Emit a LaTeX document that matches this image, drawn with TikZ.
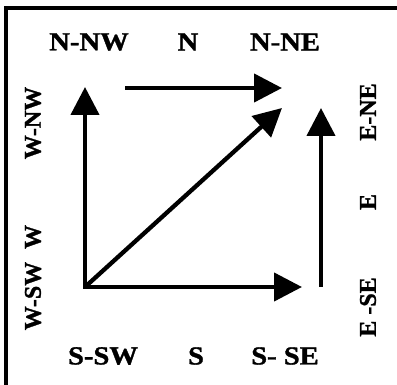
\documentclass[tikz,border=0pt]{standalone}
\usepackage{fontspec}
\setmainfont{Liberation Serif}[BoldFeatures={FakeBold=1.2}]
\usetikzlibrary{arrows.meta}
\newcommand{\hstretch}[1]{\scalebox{1.1}[1]{#1}}
\tikzset{
  lbl/.style={font=\fontsize{26}{26}\selectfont\bfseries, inner sep=0pt},
  vlbl/.style={font=\fontsize{24}{24}\selectfont\bfseries, inner sep=0pt, rotate=90},
  arr/.style={line width=4.3pt, -{Triangle[length=28pt,width=28pt]}},
}
\begin{document}
\begin{tikzpicture}[x=1pt,y=-1pt]
\useasboundingbox (0,0) rectangle (397,385);
\fill[white] (0,0) rectangle (397,385);
% frame (top and left edges visible)
\draw[line width=4pt] (397,8.5) -- (6,8.5) -- (6,385);
% labels
\node[lbl] (nnw) at (89,42) {\hstretch{N-NW}};
\node[lbl] (n) at (188,42) {\hstretch{N}};
\node[lbl] (nne) at (285,42) {\hstretch{N-NE}};
\node[lbl] (ssw) at (103,356) {\hstretch{S-SW}};
\node[lbl] (s) at (196,356) {\hstretch{S}};
\node[lbl] (sse) at (285,356) {\hstretch{S- SE}};
\node[vlbl] (wnw) at (33,123) {W-NW};
\node[vlbl] (w) at (33,237) {W};
\node[vlbl] (wsw) at (33,296) {W-SW};
\node[vlbl] (ene) at (368,112) {E-NE};
\node[vlbl] (e) at (368,202) {E};
\node[vlbl] (ese) at (368,307) {E -SE};
% arrow points
\coordinate (o) at (85,287);
\coordinate (ltip) at (85,87);
\coordinate (tstart) at (125,88);
\coordinate (ttip) at (282,88);
\coordinate (dtip) at (282,108);
\coordinate (btip) at (302,287);
\coordinate (rstart) at (321,287);
\coordinate (rtip) at (321,108);
\draw[arr] ([yshift=2pt]o) -- (ltip);
\draw[arr] ([xshift=-2pt]o) -- (btip);
\draw[arr] (o) -- (dtip);
\draw[arr] (tstart) -- (ttip);
\draw[arr] (rstart) -- (rtip);
\end{tikzpicture}
\end{document}
